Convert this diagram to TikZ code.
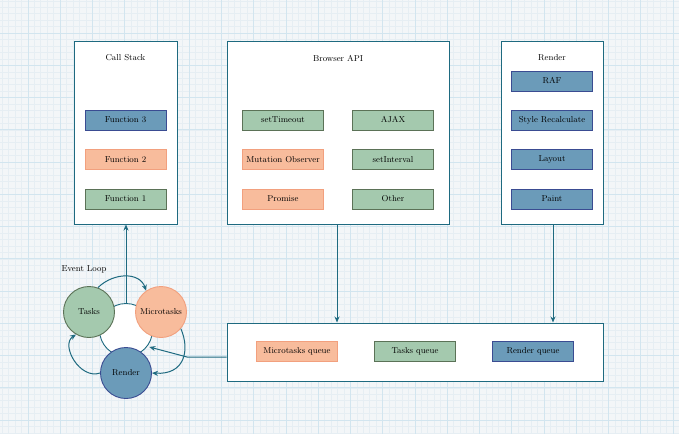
\documentclass[tikz,border=0pt]{standalone}
\usetikzlibrary{arrows.meta}
\definecolor{paper}{HTML}{F3F6F8}
\definecolor{minorline}{HTML}{E6EEF3}
\definecolor{majorline}{HTML}{D2E5EF}
\definecolor{linecol}{HTML}{1E6A80}
\definecolor{greenfill}{HTML}{A4C9AE}
\definecolor{greenline}{HTML}{5B7257}
\definecolor{orangefill}{HTML}{F8BC9C}
\definecolor{orangeline}{HTML}{F2A07E}
\definecolor{bluefill}{HTML}{6B9BB9}
\definecolor{blueline}{HTML}{3A4C92}

\begin{document}
\begin{tikzpicture}[x=1pt,y=-1pt,font=\fontsize{8.6}{10}\selectfont,
  panel/.style={draw=linecol,line width=1pt,fill=white,inner sep=0pt},
  itembox/.style={draw,line width=0.9pt,minimum width=81pt,minimum height=20pt,inner sep=0pt},
  taskbox/.style={itembox,fill=greenfill,draw=greenline},
  microbox/.style={itembox,fill=orangefill,draw=orangeline},
  renderbox/.style={itembox,fill=bluefill,draw=blueline},
  loopnode/.style={circle,line width=0.9pt,minimum size=51pt,inner sep=0pt},
  flow/.style={-{Stealth[length=6pt,width=5pt]},draw=linecol,line width=1pt}]
\useasboundingbox (0,0) rectangle (679,434);

% paper grid
\begin{scope}
\clip (0,0) rectangle (679,434);
\fill[paper] (0,0) rectangle (679,434);
\foreach \gx in {-4.5,1.95,...,679} \draw[minorline,line width=0.35pt] (\gx,0) -- (\gx,434);
\foreach \gy in {0.75,7.2,...,434} \draw[minorline,line width=0.35pt] (0,\gy) -- (679,\gy);
\foreach \gx in {28,60.25,...,679} \draw[majorline,line width=0.7pt] (\gx,0) -- (\gx,434);
\foreach \gy in {33,65.25,...,434} \draw[majorline,line width=0.7pt] (0,\gy) -- (679,\gy);
\end{scope}

% panels
\node[panel,minimum width=103pt,minimum height=183pt] (callstack) at (125.5,132.5) {};
\node[panel,minimum width=222pt,minimum height=183pt] (browserapi) at (338,132.5) {};
\node[panel,minimum width=102pt,minimum height=183pt] (render) at (552,132.5) {};
\node[panel,minimum width=376pt,minimum height=58pt] (queues) at (415,352) {};

\node (callstacktitle) at (125.5,58) {Call Stack};
\node (browsertitle) at (338,58) {Browser API};
\node (rendertitle) at (552,58) {Render};

% call stack
\foreach \y/\A/\S [count=\i] in {120/Function 3/renderbox,159.5/Function 2/microbox,199/Function 1/taskbox}
  \node[\S] (func\i) at (125.5,\y) {\A};

% browser api
\foreach \y/\A/\S [count=\i] in {120/setTimeout/taskbox,159.5/Mutation Observer/microbox,199/Promise/microbox}
  \node[\S] (apileft\i) at (283,\y) {\A};
\foreach \y/\A [count=\i] in {120/AJAX,159.5/setInterval,199/Other}
  \node[taskbox] (apiright\i) at (393,\y) {\A};

% render steps
\foreach \y/\A [count=\i] in {81/RAF,120/Style Recalculate,159.5/Layout,199/Paint}
  \node[renderbox] (step\i) at (552,\y) {\A};

% queues
\node[microbox] (microq) at (297,351.5) {Microtasks queue};
\node[taskbox] (taskq) at (415,351.5) {Tasks queue};
\node[renderbox] (renderq) at (533,351.5) {Render queue};

\draw[flow] (browserapi.south -| 337,0) -- (queues.north -| 337,0);
\draw[flow] (render.south -| 553,0) -- (queues.north -| 553,0);

% event loop
\node (looptitle) at (84,269) {Event Loop};
\node[circle,draw=linecol,line width=0.9pt,fill=white,minimum size=53pt,inner sep=0pt] (hub) at (126,330) {};
\draw[flow] (hub.north) -- (callstack.south -| hub.north);
\coordinate (bend) at (187,357);
\draw[flow] (queues.west |- bend) -- (bend) -- (hub.30 |- 0,347);
\node[loopnode,draw=greenline,fill=greenfill] (tasks) at (89,312) {Tasks};
\node[loopnode,draw=orangeline,fill=orangefill] (micro) at (161,312) {Microtasks};
\node[loopnode,draw=blueline,fill=bluefill] (renderloop) at (126,373) {Render};

\draw[flow] (tasks.70) .. controls (114,272) and (140,272) .. (micro.125);
\draw[flow] (micro.-40) .. controls (190,350) and (185,375) .. (renderloop.east);
\draw[flow] (renderloop.west) .. controls (80,380) and (60,345) .. (tasks.-120);
\end{tikzpicture}
\end{document}
